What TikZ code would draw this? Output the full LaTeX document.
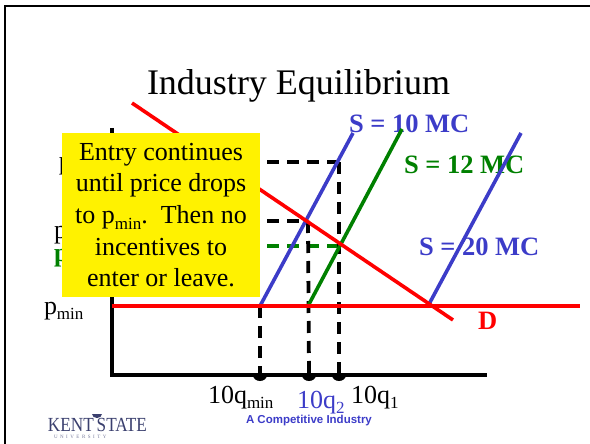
\documentclass[tikz,border=0pt]{standalone}
\usepackage{fontspec}
\setmainfont{Liberation Serif}
\newfontfamily\arialfont{Liberation Sans}
\definecolor{bluecurve}{HTML}{3C3CC8}
\definecolor{bluetext}{HTML}{3C3CC8}
\definecolor{greencurve}{HTML}{008000}
\definecolor{logonavy}{HTML}{3A3F6E}
\newcommand{\subtxt}[1]{\raisebox{-0.22em}{\fontsize{17}{17}\selectfont #1}}
\tikzset{
  lbl/.style={anchor=base west,inner sep=0pt,outer sep=0pt,font=\fontsize{26}{26}\selectfont},
  supply/.style={lbl,font=\fontsize{26.5}{26.5}\selectfont\bfseries},
  axisline/.style={draw=black,line width=3.6pt},
  redline/.style={draw=red,line width=3.6pt},
  bluecrv/.style={draw=bluecurve,line width=3.6pt},
  greencrv/.style={draw=greencurve,line width=3.6pt},
  guide/.style={draw=black,line width=3.8pt,dash pattern=on 12pt off 8pt},
  greenguide/.style={draw=greencurve,line width=3.8pt,dash pattern=on 12pt off 8pt},
  dotmark/.style={fill=black,draw=none},
}
\begin{document}
\begin{tikzpicture}[x=1pt,y=-1pt]
\useasboundingbox (0,0) rectangle (590,444);
% slide frame
\coordinate (fb) at (5,444);
\coordinate (fc) at (5,6);
\coordinate (fr) at (590,6);
\draw[black,line width=2.4pt] (fb) -- (fc) -- (fr);
% title
\node[lbl,font=\fontsize{36}{36}\selectfont] (title) at (147,95) {Industry Equilibrium};
% labels under the curves
\node[supply,text=bluetext] (s10) at (349,132) {S = 10 MC};
\node[supply,text=greencurve] (s12) at (404,173) {S = 12 MC};
\node[supply,text=bluetext] (s20) at (419,255) {S = 20 MC};
\node[supply,text=red] (dlab) at (478,329) {D};
\node[lbl] (pa) at (59,170) {p};
\node[lbl] (pb) at (54,238) {p};
\node[lbl,font=\fontsize{26}{26}\selectfont\bfseries,text=greencurve] (pc) at (54,261) {p};
\node[lbl] (pmin) at (44,314) {p\subtxt{min}};
\node[lbl] (qmin) at (208,403) {10q\subtxt{min}};
\node[lbl,text=bluetext] (q2) at (297,408) {10q\subtxt{2}};
\node[lbl] (q1) at (351,403) {10q\subtxt{1}};
% key points
\coordinate (axtop) at (112,128);
\coordinate (axorg) at (112,375);
\coordinate (axend) at (487,375);
\coordinate (pminl) at (112,306);
\coordinate (pminr) at (580,306);
\coordinate (dtop) at (132,103);
\coordinate (dbot) at (453,320);
\coordinate (a1) at (260,306);
\coordinate (a2) at (353,133);
\coordinate (b1) at (308,306);
\coordinate (b2) at (402,129);
\coordinate (c1) at (428,306);
\coordinate (c2) at (521,133);
\coordinate (h1l) at (267,162);
\coordinate (h1r) at (339,162);
\coordinate (h2l) at (267,221);
\coordinate (h2r) at (308,221);
\coordinate (h3l) at (267,246);
\coordinate (h3r) at (339,246);
\coordinate (v1b) at (260,375);
\coordinate (v2b) at (309,375);
\coordinate (v3b) at (339,375);
\coordinate (v1t) at (260,306);
% guides
\draw[guide] (h1l) -- (h1r);
\draw[guide] (h2l) -- (h2r);
\draw[greenguide] (h3l) -- (h3r);
\draw[guide] (h1r) -- (v3b);
\draw[guide] (h2r) -- (v2b);
\draw[guide] (v1t) -- (v1b);
% axes
\draw[axisline] (axtop) -- (axorg) -- (axend);
\fill[dotmark] (253,375) arc[start angle=180,end angle=0,x radius=7,y radius=6] -- cycle;
\fill[dotmark] (302,375) arc[start angle=180,end angle=0,x radius=7,y radius=6] -- cycle;
\fill[dotmark] (332,375) arc[start angle=180,end angle=0,x radius=7,y radius=6] -- cycle;
% curves
\draw[bluecrv] (a1) -- (a2);
\draw[greencrv] (b1) -- (b2);
\draw[bluecrv] (c1) -- (c2);
\draw[redline] (dtop) -- (dbot);
\draw[redline] (pminl) -- (pminr);
% callout
\node[fill=yellow,minimum width=198pt,minimum height=164pt,inner sep=0pt,align=center,
      font=\fontsize{26}{31.6}\selectfont,text=black] (callout) at (161,215)
 {\raisebox{-2pt}{Entry continues}\\\raisebox{-2pt}{until price drops}\\\raisebox{-2pt}{to p\subtxt{min}.\ \ Then no}\\\raisebox{-2pt}{incentives to}\\\raisebox{-2pt}{enter or leave.}};
% footer
\node[lbl,font=\arialfont\bfseries\fontsize{11.5}{11.5}\selectfont,text=bluetext] (foot) at (246,423) {A Competitive Industry};
% logo
\node[lbl,font=\fontsize{20}{20}\selectfont,text=logonavy,xscale=0.86] (kent) at (48,431) {KENT\,STATE};
\node[lbl,font=\fontsize{5}{5}\selectfont,text=logonavy!70] (univ) at (54,438) {U\ \ N\ \ I\ \ V\ \ E\ \ R\ \ S\ \ I\ \ T\ \ Y};
\fill[logonavy] (92,414) arc[start angle=180,end angle=0,x radius=5,y radius=4] -- cycle;
\end{tikzpicture}
\end{document}
